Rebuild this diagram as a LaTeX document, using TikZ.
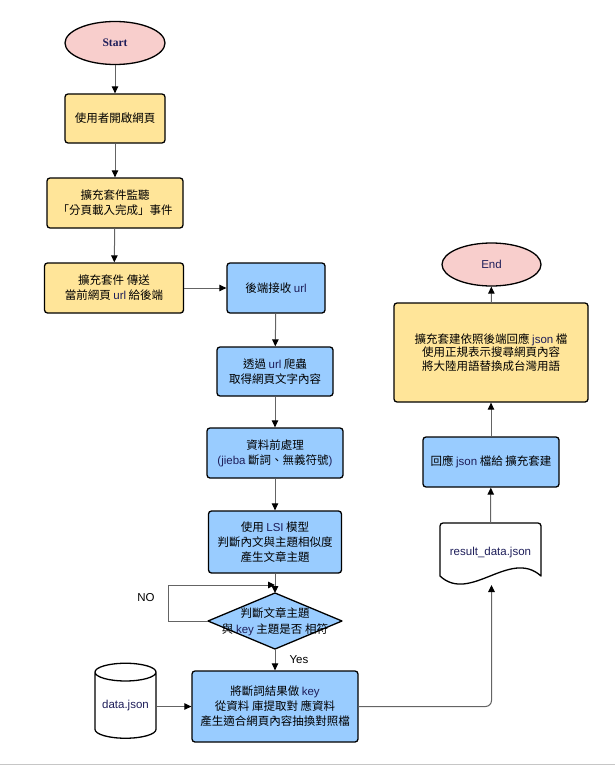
\documentclass[tikz,border=0pt]{standalone}
\usepackage{fontspec}
\setmainfont{Noto Sans CJK TC}
\newfontfamily\latinf{Liberation Sans}
\newfontfamily\serifb{Liberation Serif}
\usetikzlibrary{shapes.geometric,arrows.meta}
\definecolor{yel}{RGB}{255,229,153}
\definecolor{blu}{RGB}{153,204,255}
\definecolor{pnk}{RGB}{248,206,204}
\definecolor{navy}{RGB}{30,30,90}
\definecolor{conn}{RGB}{100,100,100}
\newcommand\en[1]{{\latinf\color{navy}#1}}
\tikzset{
  box/.style={draw=black, line width=1.3pt, rounded corners=3pt, align=center,
    font=\fontsize{11.5}{15}\selectfont, inner sep=0pt},
  ybox/.style={box, fill=yel},
  bbox/.style={box, fill=blu},
  term/.style={ellipse, draw=black, line width=1.3pt, fill=pnk, inner sep=0pt,
    font=\fontsize{11.5}{14}\selectfont},
  arr/.style={draw=conn, line width=1pt, -{Triangle[black,length=7pt,width=6.5pt]}},
  plain/.style={draw=conn, line width=1pt},
  lbl/.style={font=\latinf\fontsize{11.5}{14}\selectfont, text=black, inner sep=0pt}
}
\begin{document}
\begin{tikzpicture}[x=1pt,y=-1pt]
\useasboundingbox (0,0) rectangle (615,765);
\draw[gray!45, line width=1pt] (0,764) -- (615,764);

% terminals
\node[term, minimum width=100pt, minimum height=43pt] (start) at (115,43) {\serifb\bfseries\color{navy}Start};
\node[term, minimum width=99pt, minimum height=43pt] (end) at (491.5,264.5) {\en{End}};

% left column
\node[ybox, minimum width=100pt, minimum height=49pt] (b1) at (115,118.5) {使用者開啟網頁};
\node[ybox, minimum width=136pt, minimum height=50pt] (b2) at (115,203) {擴充套件監聽\\「分頁載入完成」事件};
\node[ybox, minimum width=139pt, minimum height=50pt] (b3) at (114,288) {擴充套件 傳送\\當前網頁 \en{url} 給後端};

% middle column
\node[bbox, minimum width=98pt, minimum height=50pt] (b4) at (276,288) {後端接收 \en{url}};
\node[bbox, minimum width=116pt, minimum height=49pt] (b5) at (275,371.5) {透過 \en{url} 爬蟲\\取得網頁文字內容};
\node[bbox, minimum width=136pt, minimum height=50pt] (b6) at (275,453) {資料前處理\\\en{(jieba} 斷詞、無義符號\en{)}};
\node[bbox, minimum width=133pt, minimum height=62pt] (b7) at (275,542) {使用 \en{LSI} 模型\\判斷內文與主題相似度\\產生文章主題};

% decision
\draw[fill=blu, draw=black, line width=1.3pt, line join=round] (275,593) -- (342,621) -- (275,649) -- (208,621) -- cycle;
\node[minimum width=134pt, minimum height=56pt, inner sep=0pt, align=center,
  font=\fontsize{11.5}{16}\selectfont] (dec) at (275,622) {判斷文章主題\\與 \en{key} 主題是否 相符};
\coordinate (dectop) at (275,593);
\coordinate (decbot) at (275,649);
\coordinate (decleft) at (208,621);
\coordinate (nojoin) at (275,585);

\node[bbox, minimum width=166pt, minimum height=71pt] (b8) at (275,706.5) {將斷詞結果做 \en{key}\\從資料 庫提取對 應資料\\產生適合網頁內容抽換對照檔};

% data cylinder
\node[cylinder, shape border rotate=90, draw=black, line width=1.3pt, fill=white,
  minimum width=61pt, minimum height=75pt, aspect=0.38, inner sep=0pt,
  font=\fontsize{11.5}{14}\selectfont] (data) at (125.5,705.5) {\en{data.json}};

% document
\draw[draw=black, line width=1.3pt, fill=white, line join=round]
  (440,576) -- (440,526) arc[start angle=180, end angle=90, radius=3pt] -- (538,523)
  arc[start angle=90, end angle=0, radius=3pt] -- (541,576)
  .. controls (510,548) and (470,604) .. (440,576) -- cycle;
\node[minimum width=101pt, minimum height=60pt, inner sep=0pt,
  font=\fontsize{11.5}{14}\selectfont] (doc) at (490.5,553) {\en{result\_data.json}};
\coordinate (docin) at (491.5,585);

% right column
\node[bbox, minimum width=136pt, minimum height=50pt] (b9) at (491,462) {回應 \en{json} 檔給 擴充套建};
\node[ybox, minimum width=194pt, minimum height=99pt, font=\fontsize{11.5}{13.5}\selectfont] (b10) at (491,352.5) {擴充套建依照後端回應 \en{json} 檔\\使用正規表示搜尋網頁內容\\將大陸用語替換成台灣用語};

% connectors
\draw[arr] (start) -- (b1);
\draw[arr] (b1) -- (b2);
\draw[arr] (b2) -- (b3);
\draw[arr] (b3) -- (b4);
\draw[arr] (b4) -- (b5);
\draw[arr] (b5) -- (b6);
\draw[arr] (b6) -- (b7);
\draw[arr] (b7) -- (dectop);
\draw[arr] (decleft) -- ++(-40,0) |- (nojoin);
\draw[arr] (decbot) -- (b8);
\draw[arr] (data.east |- b8.west) -- (b8.west);
\draw[arr, rounded corners=6pt] (b8.east) -| (docin);
\draw[arr] (doc.north) -- (b9);
\draw[arr] (b9) -- (b10);
\draw[arr] (b10) -- (end);

% labels
\node[lbl] (no) at (146,598) {NO};
\node[lbl] (yes) at (299,660) {Yes};
\end{tikzpicture}
\end{document}
